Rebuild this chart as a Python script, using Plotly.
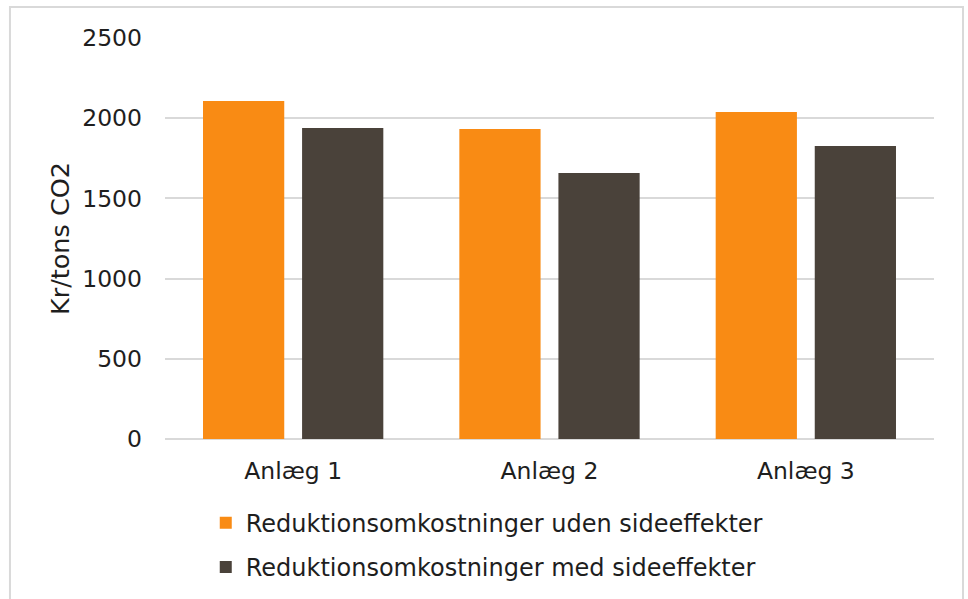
import plotly.graph_objects as go

categories = ["Anlæg 1", "Anlæg 2", "Anlæg 3"]
uden_sideeffekter = [2107, 1933, 2039]
med_sideeffekter = [1939, 1658, 1827]
series_names = ["Reduktionsomkostninger uden sideeffekter", "Reduktionsomkostninger med sideeffekter"]
y_ticks = [0, 500, 1000, 1500, 2000, 2500]

FONT = "DejaVu Sans"
TXT = "#1e1e1e"
FS = 23.5

fig = go.Figure()
fig.add_trace(go.Bar(x=categories, y=uden_sideeffekter, name=series_names[0],
                     marker=dict(color="#F98B14", line=dict(width=0)), legendgroup="a"))
fig.add_trace(go.Bar(x=categories, y=med_sideeffekter, name=series_names[1],
                     marker=dict(color="#4A423A", line=dict(width=0)), legendgroup="b"))

fig.update_layout(
    width=968, height=599,
    margin=dict(l=165, r=34, t=38, b=160, autoexpand=False),
    paper_bgcolor="white", plot_bgcolor="white",
    barmode="group", bargap=0.227, bargroupgap=0.18,
    font=dict(family=FONT, size=FS, color=TXT),
    showlegend=True,
    legend=dict(orientation="v", x=0.053, y=0.164, xref="paper", yref="container",
                xanchor="left", yanchor="top",
                font=dict(family=FONT, size=24, color=TXT),
                tracegroupgap=10, itemwidth=30, bgcolor="rgba(0,0,0,0)"),
    xaxis=dict(showgrid=False, showline=False, ticks="", ticklabelstandoff=15,
               tickfont=dict(family=FONT, size=FS, color=TXT)),
    yaxis=dict(range=[0, 2500], tickvals=y_ticks, showgrid=True, gridcolor="#D9D9D9",
               gridwidth=1.5, zeroline=True, zerolinecolor="#D9D9D9", zerolinewidth=1.5,
               showline=False, ticks="", ticklabelstandoff=22,
               tickfont=dict(family=FONT, size=FS, color=TXT),
               title=dict(text="Kr/tons CO2", standoff=5,
                          font=dict(family=FONT, size=25.5, color=TXT))),
    shapes=[dict(type="rect", xref="paper", yref="paper",
                 x0=-0.2016, x1=1.0377, y0=-0.42, y1=1.0773,
                 line=dict(color="#D9D9D9", width=2), fillcolor="rgba(0,0,0,0)", layer="below")],
)

fig.write_html("out.html")
